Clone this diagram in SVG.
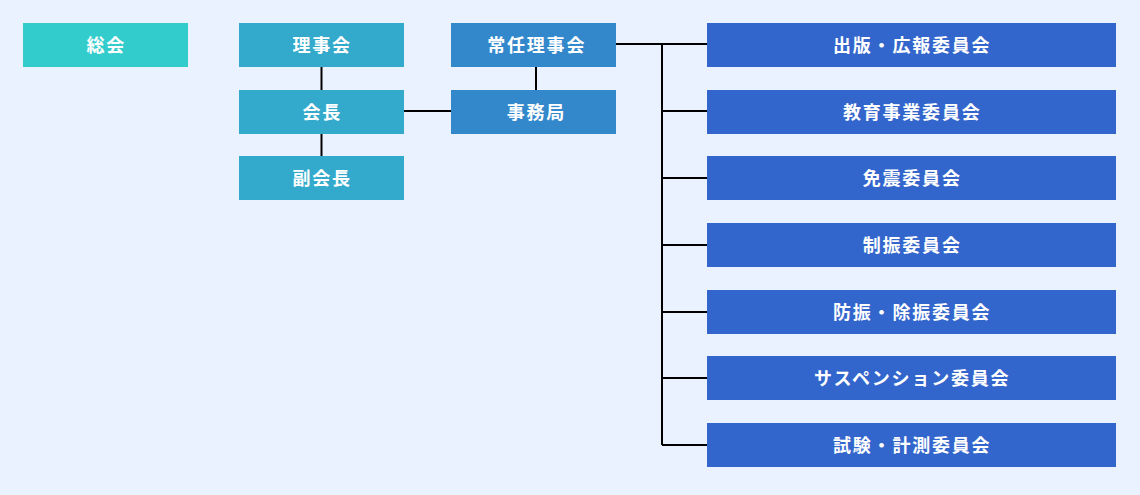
<svg xmlns="http://www.w3.org/2000/svg" width="1140" height="495" viewBox="0 0 1140 495">
<style>
.t{font-family:"Noto Sans CJK JP","Noto Sans",sans-serif;font-size:18px;font-weight:bold;letter-spacing:1.8px;fill:#ffffff;text-anchor:middle;dominant-baseline:central}
.c{stroke:#000;stroke-width:2;fill:none}
.a{fill:#33cccc}.b{fill:#33aacc}.d{fill:#3388cc}.e{fill:#3366cc}
</style>
<rect width="1140" height="495" fill="#ebf2ff"/>
<g id="connectors">
<line class="c" x1="321.5" y1="67" x2="321.5" y2="90"/>
<line class="c" x1="321.5" y1="134" x2="321.5" y2="156"/>
<line class="c" x1="404" y1="111" x2="451" y2="111"/>
<line class="c" x1="536" y1="67" x2="536" y2="90"/>
<line class="c" x1="616" y1="44" x2="707" y2="44"/>
<line class="c" x1="662" y1="44" x2="662" y2="445"/>
<line class="c" x1="662" y1="111" x2="707" y2="111"/>
<line class="c" x1="662" y1="178" x2="707" y2="178"/>
<line class="c" x1="662" y1="245" x2="707" y2="245"/>
<line class="c" x1="662" y1="312" x2="707" y2="312"/>
<line class="c" x1="662" y1="378" x2="707" y2="378"/>
<line class="c" x1="662" y1="445" x2="707" y2="445"/>
</g>
<g id="n-soukai"><rect class="a" x="23" y="23" width="165" height="44"/><text class="t" x="106.2" y="44">総会</text></g>
<g id="n-rijikai"><rect class="b" x="239" y="23" width="165" height="44"/><text class="t" x="322.2" y="44">理事会</text></g>
<g id="n-kaicho"><rect class="b" x="239" y="90" width="165" height="44"/><text class="t" x="322.2" y="110.5">会長</text></g>
<g id="n-fukukaicho"><rect class="b" x="239" y="156" width="165" height="44"/><text class="t" x="322.2" y="177">副会長</text></g>
<g id="n-jonin"><rect class="d" x="451" y="23" width="165" height="44"/><text class="t" x="536.7" y="44">常任理事会</text></g>
<g id="n-jimukyoku"><rect class="d" x="451" y="90" width="165" height="44"/><text class="t" x="536.4" y="110.5">事務局</text></g>
<g id="n-c1"><rect class="e" x="707" y="23" width="409" height="44"/><text class="t" x="912.2" y="44">出版・広報委員会</text></g>
<g id="n-c2"><rect class="e" x="707" y="90" width="409" height="44"/><text class="t" x="912.2" y="110.5">教育事業委員会</text></g>
<g id="n-c3"><rect class="e" x="707" y="156" width="409" height="44"/><text class="t" x="912.2" y="177">免震委員会</text></g>
<g id="n-c4"><rect class="e" x="707" y="223" width="409" height="44"/><text class="t" x="912.2" y="244">制振委員会</text></g>
<g id="n-c5"><rect class="e" x="707" y="290" width="409" height="44"/><text class="t" x="912.2" y="311">防振・除振委員会</text></g>
<g id="n-c6"><rect class="e" x="707" y="356" width="409" height="44"/><text class="t" x="912.2" y="377">サスペンション委員会</text></g>
<g id="n-c7"><rect class="e" x="707" y="423" width="409" height="44"/><text class="t" x="912.2" y="444">試験・計測委員会</text></g>
</svg>
